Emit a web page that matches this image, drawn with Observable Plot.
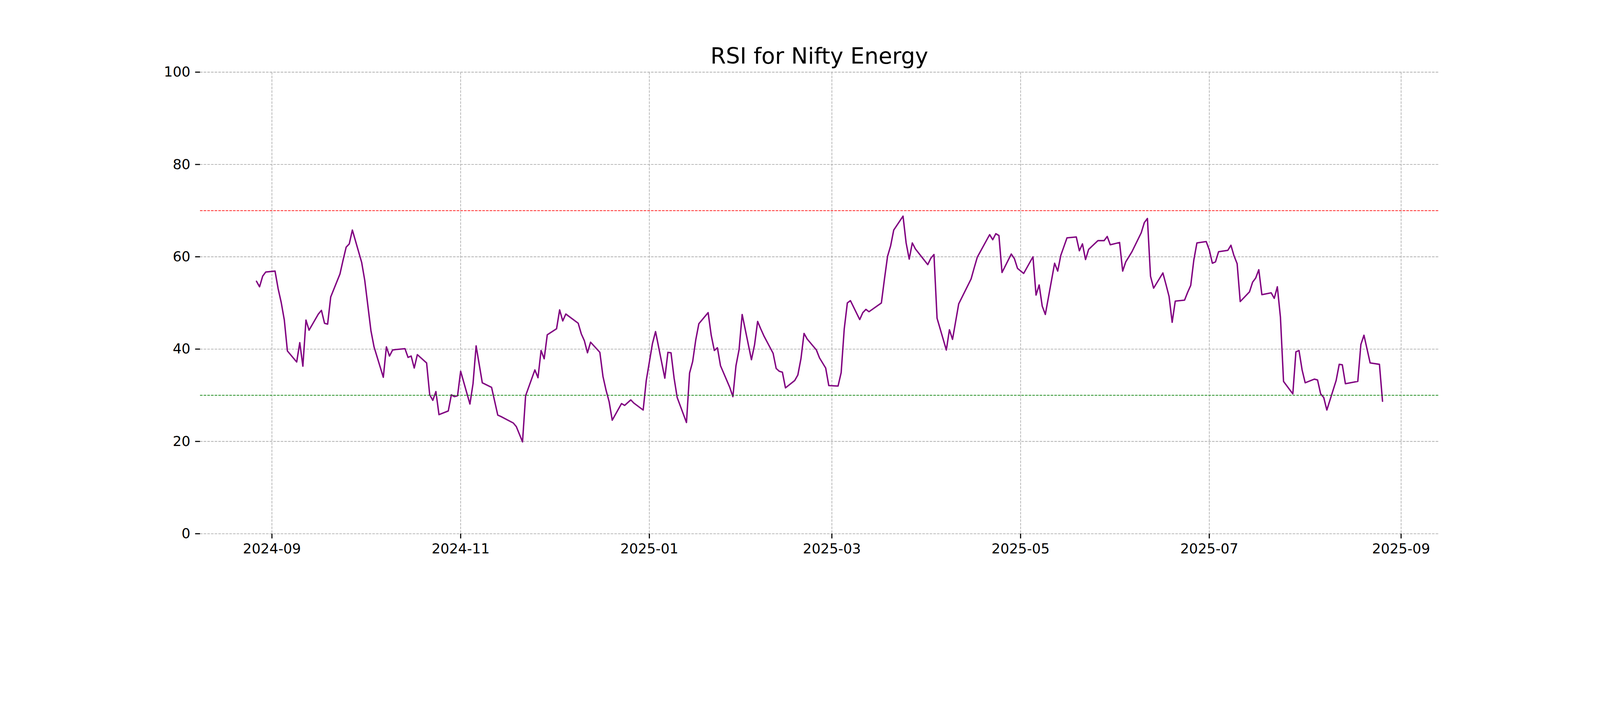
<!DOCTYPE html>
<html>
<head>
<meta charset="utf-8">
<script src="https://cdn.jsdelivr.net/npm/d3@7"></script>
<script src="https://cdn.jsdelivr.net/npm/@observablehq/plot@0.6"></script>
<style>
  html, body { margin: 0; padding: 0; background: #fff; overflow: hidden; }
  #outer { width: 4800px; height: 1800px; overflow: hidden; background: #fff; }
  #wrap { width: 4800px; height: 1800px; background: #fff; font-family: "DejaVu Sans", sans-serif; transform-origin: 0 0; }
  #title { height: 180px; box-sizing: border-box; padding-top: 134.6px; margin-left: 600px; width: 3716px;
           text-align: center; font-size: 66.7px; line-height: 1; color: #000; white-space: nowrap; }
  #chart svg { max-width: none !important; }
</style>
</head>
<body>
<div id="outer">
<div id="wrap">
  <div id="title">RSI for Nifty Energy</div>
  <div id="chart"></div>
</div>
</div>
<script>
const dates = [
"2024-08-27","2024-08-28","2024-08-29","2024-08-30","2024-09-02","2024-09-03","2024-09-04","2024-09-05","2024-09-06",
"2024-09-09","2024-09-10","2024-09-11","2024-09-12","2024-09-13","2024-09-16","2024-09-17","2024-09-18","2024-09-19",
"2024-09-20","2024-09-23","2024-09-24","2024-09-25","2024-09-26","2024-09-27","2024-09-30","2024-10-01","2024-10-03",
"2024-10-04","2024-10-07","2024-10-08","2024-10-09","2024-10-10","2024-10-11","2024-10-14","2024-10-15","2024-10-16",
"2024-10-17","2024-10-18","2024-10-21","2024-10-22","2024-10-23","2024-10-24","2024-10-25","2024-10-28","2024-10-29",
"2024-10-30","2024-10-31","2024-11-01","2024-11-04","2024-11-05","2024-11-06","2024-11-07","2024-11-08","2024-11-11",
"2024-11-12","2024-11-13","2024-11-14","2024-11-18","2024-11-19","2024-11-21","2024-11-22","2024-11-25","2024-11-26",
"2024-11-27","2024-11-28","2024-11-29","2024-12-02","2024-12-03","2024-12-04","2024-12-05","2024-12-06","2024-12-09",
"2024-12-10","2024-12-11","2024-12-12","2024-12-13","2024-12-16","2024-12-17","2024-12-18","2024-12-19","2024-12-20",
"2024-12-23","2024-12-24","2024-12-26","2024-12-27","2024-12-30","2024-12-31","2025-01-01","2025-01-02","2025-01-03",
"2025-01-06","2025-01-07","2025-01-08","2025-01-09","2025-01-10","2025-01-13","2025-01-14","2025-01-15","2025-01-16",
"2025-01-17","2025-01-20","2025-01-21","2025-01-22","2025-01-23","2025-01-24","2025-01-27","2025-01-28","2025-01-29",
"2025-01-30","2025-01-31","2025-02-03","2025-02-04","2025-02-05","2025-02-06","2025-02-07","2025-02-10","2025-02-11",
"2025-02-12","2025-02-13","2025-02-14","2025-02-17","2025-02-18","2025-02-19","2025-02-20","2025-02-21","2025-02-24",
"2025-02-25","2025-02-27","2025-02-28","2025-03-03","2025-03-04","2025-03-05","2025-03-06","2025-03-07","2025-03-10",
"2025-03-11","2025-03-12","2025-03-13","2025-03-17","2025-03-18","2025-03-19","2025-03-20","2025-03-21","2025-03-24",
"2025-03-25","2025-03-26","2025-03-27","2025-03-28","2025-04-01","2025-04-02","2025-04-03","2025-04-04","2025-04-07",
"2025-04-08","2025-04-09","2025-04-11","2025-04-15","2025-04-16","2025-04-17","2025-04-21","2025-04-22","2025-04-23",
"2025-04-24","2025-04-25","2025-04-28","2025-04-29","2025-04-30","2025-05-02","2025-05-05","2025-05-06","2025-05-07",
"2025-05-08","2025-05-09","2025-05-12","2025-05-13","2025-05-14","2025-05-15","2025-05-16","2025-05-19","2025-05-20",
"2025-05-21","2025-05-22","2025-05-23","2025-05-26","2025-05-27","2025-05-28","2025-05-29","2025-05-30","2025-06-02",
"2025-06-03","2025-06-04","2025-06-05","2025-06-06","2025-06-09","2025-06-10","2025-06-11","2025-06-12","2025-06-13",
"2025-06-16","2025-06-17","2025-06-18","2025-06-19","2025-06-20","2025-06-23","2025-06-24","2025-06-25","2025-06-26",
"2025-06-27","2025-06-30","2025-07-01","2025-07-02","2025-07-03","2025-07-04","2025-07-07","2025-07-08","2025-07-09",
"2025-07-10","2025-07-11","2025-07-14","2025-07-15","2025-07-16","2025-07-17","2025-07-18","2025-07-21","2025-07-22",
"2025-07-23","2025-07-24","2025-07-25","2025-07-28","2025-07-29","2025-07-30","2025-07-31","2025-08-01","2025-08-04",
"2025-08-05","2025-08-06","2025-08-07","2025-08-08","2025-08-11","2025-08-12","2025-08-13","2025-08-14","2025-08-18",
"2025-08-19","2025-08-20","2025-08-21","2025-08-22","2025-08-25","2025-08-26"
];
const rsi = [
54.7,53.5,55.8,56.7,56.9,53.1,50.1,46.3,39.6,
37.2,41.4,36.3,46.3,44.1,47.6,48.4,45.6,45.4,
51.3,56.3,59.3,62.1,62.8,65.8,58.8,54.9,44.0,
40.5,33.9,40.5,38.5,39.8,39.9,40.1,38.2,38.5,
35.9,38.8,37.0,30.1,28.9,30.8,25.8,26.6,30.1,
29.7,29.9,35.2,28.1,32.5,40.7,36.7,32.7,31.7,
28.7,25.7,25.4,24.0,23.2,19.9,29.9,35.5,33.8,
39.7,37.9,43.1,44.4,48.5,46.1,47.6,47.1,45.6,
43.3,41.8,39.2,41.5,39.3,34.1,31.1,28.6,24.6,
28.2,27.8,29.0,28.3,26.8,33.2,37.2,41.2,43.8,
33.7,39.3,39.2,33.7,29.5,24.1,34.8,37.3,42.0,
45.5,47.9,43.0,39.7,40.3,36.4,31.7,29.7,36.4,
39.9,47.5,37.7,40.9,46.0,44.4,42.9,39.1,35.8,
35.2,35.0,31.6,33.2,34.4,37.9,43.4,42.2,39.8,
38.1,35.9,32.1,32.0,34.9,44.4,50.0,50.5,46.4,
47.9,48.6,48.1,50.0,55.2,60.1,62.4,65.8,68.8,
63.0,59.5,63.0,61.7,58.3,59.7,60.5,46.7,39.8,
44.2,42.1,49.8,55.2,57.6,59.9,64.8,63.7,65.0,
64.6,56.6,60.6,59.6,57.5,56.4,60.0,51.7,53.9,
49.3,47.5,58.6,56.9,60.3,62.2,64.1,64.3,61.3,
62.8,59.4,61.6,63.5,63.5,63.5,64.4,62.6,63.1,
56.9,58.9,60.0,61.1,65.2,67.4,68.3,55.8,53.2,
56.5,54.0,51.4,45.8,50.4,50.6,52.3,53.8,59.3,
63.0,63.3,61.5,58.6,58.9,61.1,61.4,62.5,60.2,
58.5,50.3,52.4,54.5,55.4,57.2,51.8,52.2,51.0,
53.5,46.9,33.0,30.3,39.4,39.7,35.5,32.7,33.5,
33.3,30.3,29.5,26.8,33.2,36.7,36.6,32.5,33.0,
41.0,43.0,40.0,37.0,36.7,28.7
];
const xTickLabels = ["2024-09","2024-11","2025-01","2025-03","2025-05","2025-07","2025-09"];
const yTicks = [0, 20, 40, 60, 80, 100];
const overbought = 70;
const oversold = 30;

const data = dates.map((d, i) => ({date: new Date(d + "T00:00:00Z"), rsi: rsi[i]}));
const xTicks = xTickLabels.map(s => new Date(s + "-01T00:00:00Z"));
const t0 = data[0].date.getTime(), t1 = data[data.length - 1].date.getTime();
const pad = (t1 - t0) * 0.05;

const dash = "7.7,3.3";
const chart = Plot.plot({
  width: 4800,
  height: 1620,
  marginTop: 36,
  marginBottom: 199,
  marginLeft: 600,
  marginRight: 484,
  style: {fontFamily: "'DejaVu Sans', sans-serif", background: "#fff", color: "#000", overflow: "visible"},
  x: {type: "utc", domain: [new Date(t0 - pad), new Date(t1 + pad)]},
  y: {domain: [0, 100]},
  marks: [
    Plot.gridX(xTicks, {stroke: "#b0b0b0", strokeOpacity: 1, strokeWidth: 2.08, strokeDasharray: dash}),
    Plot.gridY(yTicks, {stroke: "#b0b0b0", strokeOpacity: 1, strokeWidth: 2.08, strokeDasharray: dash}),
    Plot.line(data, {x: "date", y: "rsi", stroke: "purple", strokeWidth: 4.17, curve: "linear"}),
    Plot.ruleY([overbought], {stroke: "red", strokeWidth: 2.08, strokeDasharray: dash}),
    Plot.ruleY([oversold], {stroke: "green", strokeWidth: 2.08, strokeDasharray: dash}),
    Plot.axisX(xTicks, {tickFormat: d3.utcFormat("%Y-%m"), tickSize: 14.6, tickPadding: 14.6, fontSize: 41.7, strokeWidth: 3.3, label: null}),
    Plot.axisY(yTicks, {tickSize: 14.6, tickPadding: 14.6, fontSize: 41.7, strokeWidth: 3.3, label: null})
  ]
});
document.getElementById("chart").appendChild(chart);

function fit() {
  const w = document.documentElement.clientWidth || window.innerWidth;
  const s = Math.min(1, w / 4800);
  const outer = document.getElementById("outer");
  outer.style.width = (4800 * s) + "px";
  outer.style.height = (1800 * s) + "px";
  document.getElementById("wrap").style.transform = s < 1 ? `scale(${s})` : "none";
}
fit();
window.addEventListener("resize", fit);
</script>
</body>
</html>
